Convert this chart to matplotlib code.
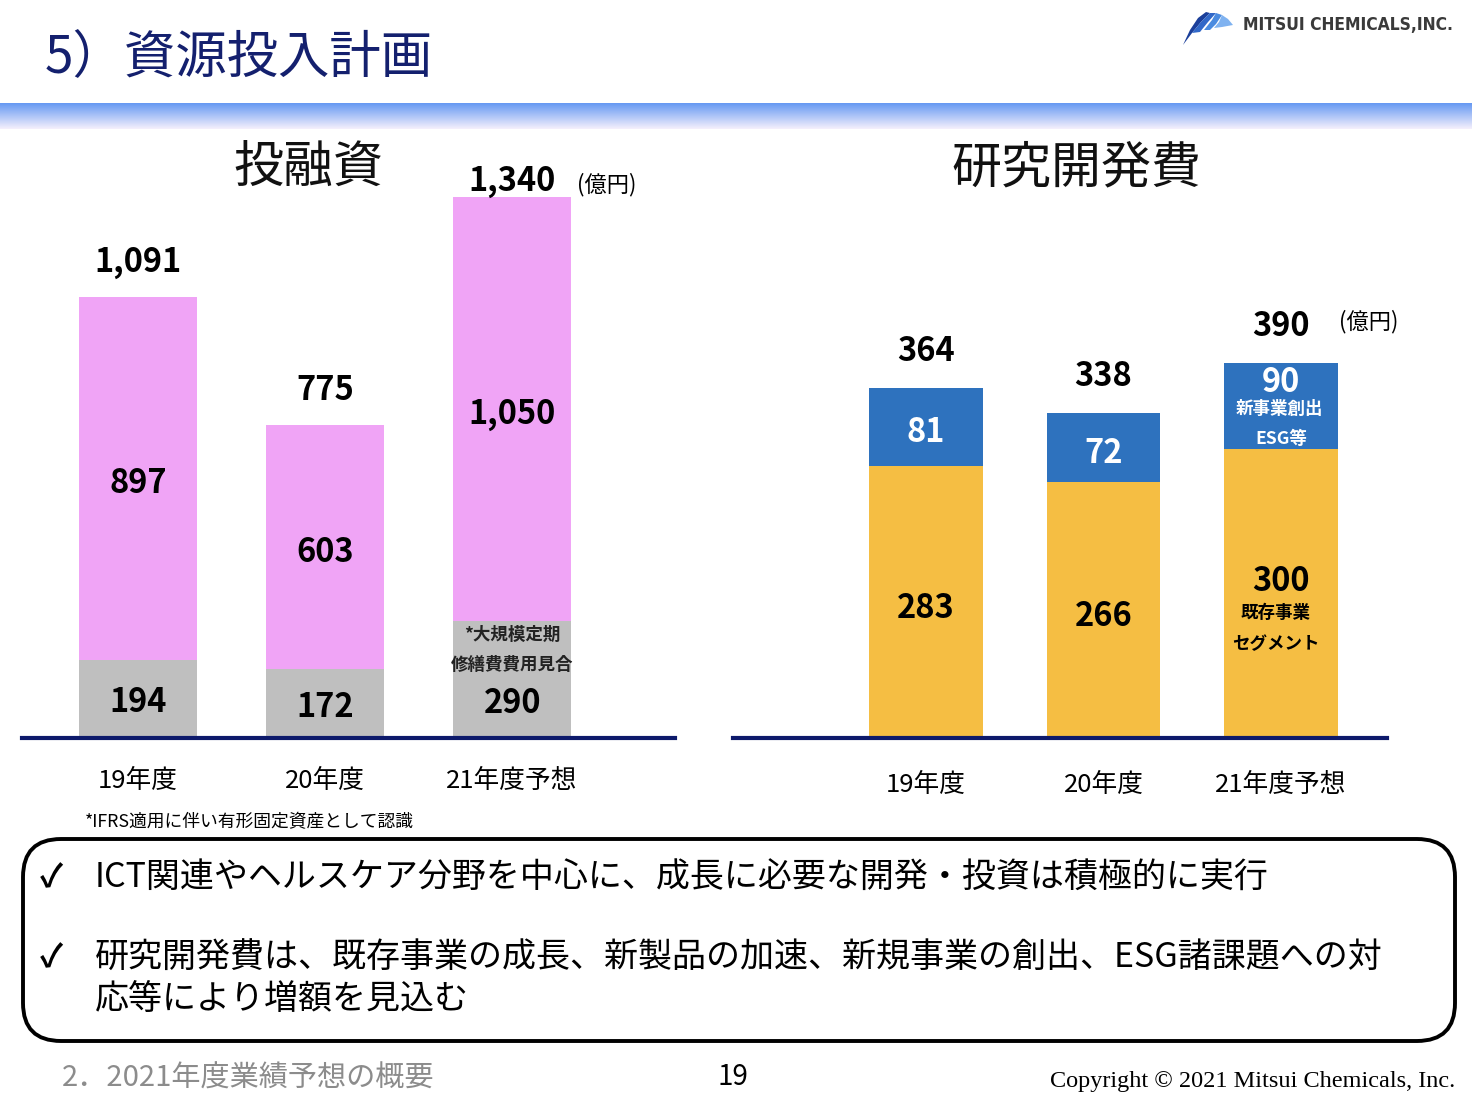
import numpy as np
import matplotlib
matplotlib.use("Agg")
import matplotlib.pyplot as plt
from matplotlib.patches import FancyBboxPatch, Polygon

plt.rcParams['font.family'] = ['Noto Sans CJK JP', 'DejaVu Sans']

# data (億円)
years = ['19年度', '20年度', '21年度予想']
capex_maint = [194, 172, 290]       # gray
capex_other = [897, 603, 1050]      # pink
capex_total = [1091, 775, 1340]
rd_existing = [283, 266, 300]       # orange
rd_new = [81, 72, 90]               # blue
rd_total = [364, 338, 390]

PINK = '#F0A4F6'
GRAY = '#BFBFBF'
BLUE = '#2E72BE'
ORANGE = '#F5BE43'
NAVY = '#0D1A6B'
NUM = 23.5
SMALL = 12.6

W, H = 1472, 1102
fig = plt.figure(figsize=(W / 100, H / 100), dpi=100)

# overlay axes in pixel coords for decoration
ov = fig.add_axes([0, 0, 1, 1])
ov.axis('off')


def px_axes(x0, x1, y0, y1):
    # y0 top, y1 bottom in pixels
    return fig.add_axes([x0 / W, 1 - y1 / H, (x1 - x0) / W, (y1 - y0) / H])


# title
ov.text(45, 58, '5）資源投入計画', fontsize=37, color='#14206E', va='center', ha='left')

# gradient band
grad = np.linspace(0, 1, 50)[:, None]
top = np.array([0.40, 0.60, 0.95])
bot = np.array([0.96, 0.94, 0.99])
img = top[None, None, :] * (1 - grad[..., None]) + bot[None, None, :] * grad[..., None]
img = np.repeat(img, 2, axis=1)
ov.imshow(img, extent=[0, W, 129, 103], aspect='auto', zorder=1)
ov.set_xlim(0, W)
ov.set_ylim(H, 0)

# logo swoosh
bands = [
    ([(1183, 45), (1190, 30), (1198, 18), (1206, 12), (1210, 13), (1201, 22), (1192, 33)], '#1B3F9A'),
    ([(1192, 33), (1201, 22), (1210, 13), (1216, 13), (1208, 22), (1200, 32)], '#3168C8'),
    ([(1204, 30), (1212, 20), (1216, 13), (1222, 15), (1216, 24), (1210, 30)], '#4A8BE0'),
    ([(1214, 28), (1219, 22), (1222, 15), (1228, 19), (1233, 25), (1222, 27)], '#7FB2F0'),
]
for pts, c in bands:
    ov.add_patch(Polygon(pts, closed=True, facecolor=c, edgecolor='none'))
ov.text(1243, 25, 'MITSUI CHEMICALS,INC.', fontsize=12.5, fontweight='bold', color='#3A3A3A',
        va='center', ha='left', family='DejaVu Sans', fontstretch='condensed')

# chart headings
ov.text(308, 168, '投融資', fontsize=36, ha='center', va='center', color='#111111')
ov.text(1076, 168, '研究開発費', fontsize=36, ha='center', va='center', color='#111111')

x = np.arange(len(years))

# ---- left chart: 投融資
axl = px_axes(22, 675, 130, 738)
axl.bar(x, capex_maint, width=0.63, color=GRAY, zorder=2)
axl.bar(x, capex_other, width=0.63, bottom=capex_maint, color=PINK, zorder=2)
axl.set_xlim(-0.62, 2.87)
axl.set_ylim(0, 1505)
axl.axhline(0, color=NAVY, lw=3, zorder=3, clip_on=False)
axl.axis('off')

for i in range(len(years)):
    off = 25 if i < 2 else 11
    axl.annotate(f'{capex_total[i]:,}', (x[i], capex_total[i]), xytext=(0, off), textcoords='offset points',
                 ha='center', va='center', fontsize=NUM, fontweight='bold')
    axl.annotate(f'{capex_other[i]:,}', (x[i], capex_maint[i] + capex_other[i] / 2), xytext=(0, -4),
                 textcoords='offset points', ha='center', va='center', fontsize=NUM, fontweight='bold')
    if i < 2:
        axl.annotate(f'{capex_maint[i]:,}', (x[i], capex_maint[i] / 2), xytext=(0, -3),
                     textcoords='offset points', ha='center', va='center', fontsize=NUM, fontweight='bold')
    else:
        axl.annotate(f'{capex_maint[i]:,}', (x[i], capex_maint[i] / 2), xytext=(0, -17),
                     textcoords='offset points', ha='center', va='center', fontsize=NUM, fontweight='bold')
        axl.annotate('*大規模定期', (x[i], capex_maint[i]), xytext=(0, -10), textcoords='offset points',
                     ha='center', va='center', fontsize=SMALL, fontweight='bold', color='#222222')
        axl.annotate('修繕費費用見合', (x[i], capex_maint[i]), xytext=(0, -32), textcoords='offset points',
                     ha='center', va='center', fontsize=SMALL, fontweight='bold', color='#222222')
    axl.annotate(years[i], (x[i], 0), xytext=(0, -31), textcoords='offset points',
                 ha='center', va='center', fontsize=18.5)
axl.annotate('(億円)', (x[2], capex_total[2]), xytext=(68, 9), textcoords='offset points',
             ha='center', va='center', fontsize=16)

# ---- right chart: 研究開発費
axr = px_axes(733, 1387, 130, 738)
axr.bar(x, rd_existing, width=0.637, color=ORANGE, zorder=2)
axr.bar(x, rd_new, width=0.637, bottom=rd_existing, color=BLUE, zorder=2)
axr.set_xlim(-1.087, 2.597)
axr.set_ylim(0, 632)
axr.axhline(0, color=NAVY, lw=3, zorder=3, clip_on=False)
axr.axis('off')

for i in range(len(years)):
    axr.annotate(f'{rd_total[i]}', (x[i], rd_total[i]), xytext=(0, 26), textcoords='offset points',
                 ha='center', va='center', fontsize=NUM, fontweight='bold')
    if i < 2:
        axr.annotate(f'{rd_new[i]}', (x[i], rd_existing[i] + rd_new[i] / 2), xytext=(0, -4),
                     textcoords='offset points', ha='center', va='center', fontsize=NUM,
                     fontweight='bold', color='white')
        axr.annotate(f'{rd_existing[i]}', (x[i], rd_existing[i] / 2), xytext=(0, -5),
                     textcoords='offset points', ha='center', va='center', fontsize=NUM, fontweight='bold')
    else:
        axr.annotate(f'{rd_new[i]}', (x[i], rd_total[i]), xytext=(0, -14), textcoords='offset points',
                     ha='center', va='center', fontsize=NUM, fontweight='bold', color='white')
        axr.annotate('新事業創出', (x[i], rd_total[i]), xytext=(-1, -33), textcoords='offset points',
                     ha='center', va='center', fontsize=SMALL, fontweight='bold', color='white')
        axr.annotate('ESG等', (x[i], rd_total[i]), xytext=(0, -55), textcoords='offset points',
                     ha='center', va='center', fontsize=SMALL, fontweight='bold', color='white')
        axr.annotate(f'{rd_existing[i]}', (x[i], rd_existing[i]), xytext=(0, -95), textcoords='offset points',
                     ha='center', va='center', fontsize=NUM, fontweight='bold')
        axr.annotate('既存事業', (x[i], rd_existing[i]), xytext=(-4, -118), textcoords='offset points',
                     ha='center', va='center', fontsize=SMALL, fontweight='bold')
        axr.annotate('セグメント', (x[i], rd_existing[i]), xytext=(-4, -140), textcoords='offset points',
                     ha='center', va='center', fontsize=SMALL, fontweight='bold')
    axr.annotate(years[i], (x[i], 0), xytext=(0, -34), textcoords='offset points',
                 ha='center', va='center', fontsize=18.5)
axr.annotate('(億円)', (x[2], rd_total[2]), xytext=(63, 30), textcoords='offset points',
             ha='center', va='center', fontsize=16)

# footnote
ov.text(85, 822, '*IFRS適用に伴い有形固定資産として認識', fontsize=12.8, ha='left', va='center')

# summary box
box = FancyBboxPatch((23, 839), 1432, 202, boxstyle='round,pad=0,rounding_size=38',
                     facecolor='white', edgecolor='black', lw=2.8)
ov.add_patch(box)
bullet_lines = [
    (878, 'ICT関連やヘルスケア分野を中心に、成長に必要な開発・投資は積極的に実行', True),
    (958, '研究開発費は、既存事業の成長、新製品の加速、新規事業の創出、ESG諸課題への対', True),
    (1000, '応等により増額を見込む', False),
]
for y, txt, mark in bullet_lines:
    if mark:
        ov.text(40, y, '✓', fontsize=23, fontweight='bold', ha='left', va='center')
    ov.text(95, y, txt, fontsize=24.5, ha='left', va='center')

# footer
ov.text(62, 1079, '2．2021年度業績予想の概要', fontsize=21, color='#8C8C8C', ha='left', va='center')
ov.text(733, 1077, '19', fontsize=20, ha='center', va='center')
ov.text(1455, 1082, 'Copyright © 2021 Mitsui Chemicals, Inc.', fontsize=17.5, ha='right', va='center',
        family=['Liberation Serif', 'DejaVu Serif'])

fig.savefig('out.png', dpi=100)
